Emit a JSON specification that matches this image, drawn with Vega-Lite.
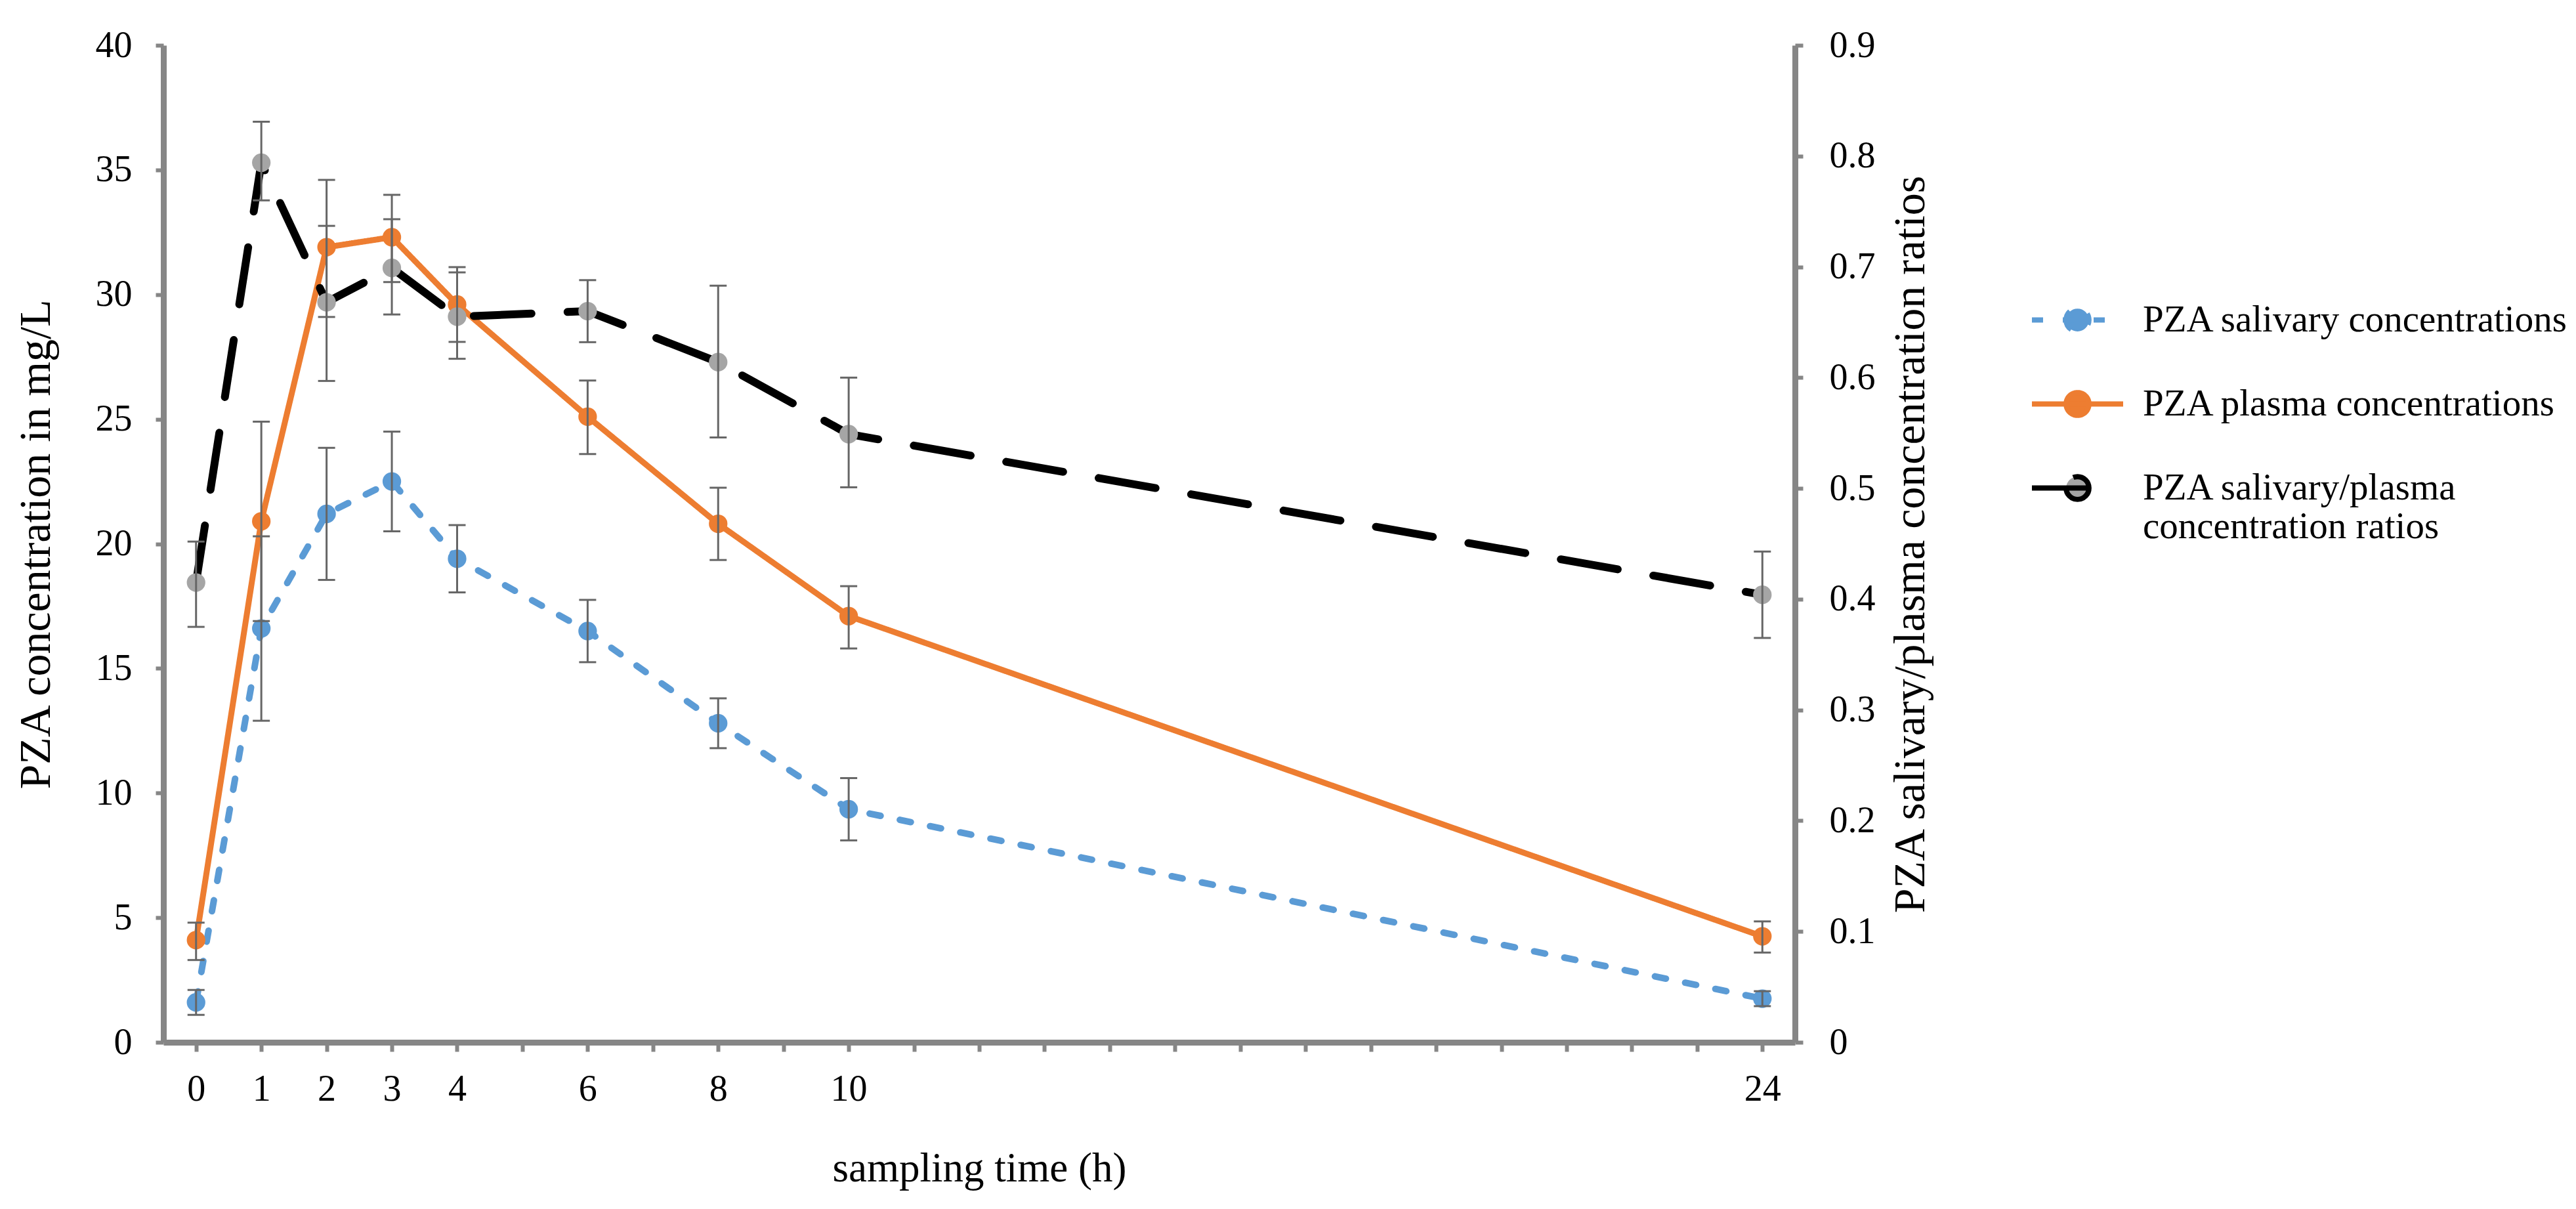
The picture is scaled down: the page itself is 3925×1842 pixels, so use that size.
{
  "$schema": "https://vega.github.io/schema/vega-lite/v6.json",
  "width": 2486,
  "height": 1519,
  "autosize": {"type": "none"},
  "padding": {"left": 249, "top": 69, "right": 1190, "bottom": 254},
  "background": "white",
  "config": {
    "view": {"stroke": null},
    "font": "Liberation Serif",
    "axis": {"grid": false, "labelFont": "Liberation Serif", "titleFont": "Liberation Serif", "labelColor": "#000000", "titleColor": "#000000", "titleFontWeight": "normal", "domainColor": "#868686", "tickColor": "#868686"}
  },
  "datasets": {
    "conc": [
      {"t": 0, "s": "PZA salivary concentrations", "m": 1.6, "lo": 1.1, "hi": 2.1},
      {"t": 1, "s": "PZA salivary concentrations", "m": 16.6, "lo": 12.9, "hi": 20.3},
      {"t": 2, "s": "PZA salivary concentrations", "m": 21.2, "lo": 18.55, "hi": 23.85},
      {"t": 3, "s": "PZA salivary concentrations", "m": 22.5, "lo": 20.5, "hi": 24.5},
      {"t": 4, "s": "PZA salivary concentrations", "m": 19.4, "lo": 18.05, "hi": 20.75},
      {"t": 6, "s": "PZA salivary concentrations", "m": 16.5, "lo": 15.25, "hi": 17.75},
      {"t": 8, "s": "PZA salivary concentrations", "m": 12.8, "lo": 11.8, "hi": 13.8},
      {"t": 10, "s": "PZA salivary concentrations", "m": 9.35, "lo": 8.1, "hi": 10.6},
      {"t": 24, "s": "PZA salivary concentrations", "m": 1.75, "lo": 1.45, "hi": 2.05},
      {"t": 0, "s": "PZA plasma concentrations", "m": 4.1, "lo": 3.3, "hi": 4.8},
      {"t": 1, "s": "PZA plasma concentrations", "m": 20.9, "lo": 16.9, "hi": 24.9},
      {"t": 2, "s": "PZA plasma concentrations", "m": 31.9, "lo": 29.1, "hi": 34.6},
      {"t": 3, "s": "PZA plasma concentrations", "m": 32.3, "lo": 30.5, "hi": 34.0},
      {"t": 4, "s": "PZA plasma concentrations", "m": 29.6, "lo": 28.1, "hi": 31.1},
      {"t": 6, "s": "PZA plasma concentrations", "m": 25.1, "lo": 23.6, "hi": 26.55},
      {"t": 8, "s": "PZA plasma concentrations", "m": 20.8, "lo": 19.35, "hi": 22.25},
      {"t": 10, "s": "PZA plasma concentrations", "m": 17.1, "lo": 15.8, "hi": 18.3},
      {"t": 24, "s": "PZA plasma concentrations", "m": 4.25, "lo": 3.6, "hi": 4.85}
    ],
    "ratio": [
      {"t": 0, "s": "PZA salivary/plasma concentration ratios", "m": 0.415, "lo": 0.375, "hi": 0.452},
      {"t": 1, "s": "PZA salivary/plasma concentration ratios", "m": 0.794, "lo": 0.76, "hi": 0.831},
      {"t": 2, "s": "PZA salivary/plasma concentration ratios", "m": 0.668, "lo": 0.597, "hi": 0.737},
      {"t": 3, "s": "PZA salivary/plasma concentration ratios", "m": 0.699, "lo": 0.657, "hi": 0.743},
      {"t": 4, "s": "PZA salivary/plasma concentration ratios", "m": 0.655, "lo": 0.617, "hi": 0.695},
      {"t": 6, "s": "PZA salivary/plasma concentration ratios", "m": 0.66, "lo": 0.632, "hi": 0.688},
      {"t": 8, "s": "PZA salivary/plasma concentration ratios", "m": 0.614, "lo": 0.546, "hi": 0.683},
      {"t": 10, "s": "PZA salivary/plasma concentration ratios", "m": 0.549, "lo": 0.501, "hi": 0.6},
      {"t": 24, "s": "PZA salivary/plasma concentration ratios", "m": 0.404, "lo": 0.365, "hi": 0.443}
    ]
  },
  "layer": [
    {
      "data": {"name": "conc"},
      "layer": [
        {
          "mark": {"type": "line", "strokeCap": "round", "strokeJoin": "round"},
          "encoding": {
            "x": {"field": "t", "type": "quantitative", "scale": {"domain": [-0.5, 24.5], "nice": false, "zero": false},
              "axis": {"values": [0,1,2,3,4,5,6,7,8,9,10,11,12,13,14,15,16,17,18,19,20,21,22,23,24], "format": "d",
                "labelExpr": "indexof([0,1,2,3,4,6,8,10,24], datum.value) >= 0 ? datum.label : ''",
                "title": "sampling time (h)", "titleFontSize": 63, "titleY": 192, "titleBaseline": "middle",
                "labelFontSize": 56, "labelPadding": 30, "tickSize": 14, "tickWidth": 6, "domainWidth": 9, "labelOverlap": false}},
            "y": {"field": "m", "type": "quantitative", "scale": {"domain": [0, 40], "nice": false},
              "axis": {"values": [0,5,10,15,20,25,30,35,40], "title": "PZA concentration in mg/L", "titleFontSize": 68,
                "titleX": -194, "titleY": 760, "titleBaseline": "middle", "titleAngle": -90,
                "labelFontSize": 56, "labelPadding": 36, "tickSize": 12, "tickWidth": 6, "domainWidth": 9}},
            "color": {"field": "s", "type": "nominal",
              "scale": {"domain": ["PZA salivary concentrations", "PZA plasma concentrations", "PZA salivary/plasma concentration ratios"], "range": ["#5B9BD5", "#ED7D31", "#000000"]},
              "legend": {"title": null, "orient": "none", "legendX": 2843, "legendY": 345,
                "symbolType": "M-1,0L1,0M-0.25,0A0.25,0.25,0,1,0,0.25,0A0.25,0.25,0,1,0,-0.25,0",
                "symbolSize": 19321, "symbolStrokeWidth": 8, "labelFont": "Liberation Serif", "labelFontSize": 57,
                "labelColor": "#000000", "labelOffset": 26, "rowPadding": 21, "labelLimit": 2000,
                "labelExpr": "datum.label == 'PZA salivary/plasma concentration ratios' ? ['PZA salivary/plasma', 'concentration ratios'] : datum.label"}},
            "strokeDash": {"field": "s", "type": "nominal",
              "scale": {"domain": ["PZA salivary concentrations", "PZA plasma concentrations", "PZA salivary/plasma concentration ratios"], "range": [[17, 30], [1, 0], [88, 55]]},
              "legend": {"title": null, "orient": "none", "legendX": 2843, "legendY": 345}},
            "strokeWidth": {"condition": {"test": "datum.s == 'PZA plasma concentrations'", "value": 9}, "value": 10}
          }
        },
        {
          "mark": {"type": "point", "filled": true, "size": 800, "opacity": 1, "strokeWidth": 0},
          "encoding": {
            "x": {"field": "t", "type": "quantitative"},
            "y": {"field": "m", "type": "quantitative"},
            "fill": {"field": "s", "type": "nominal",
              "scale": {"domain": ["PZA salivary concentrations", "PZA plasma concentrations", "PZA salivary/plasma concentration ratios"], "range": ["#5B9BD5", "#ED7D31", "#A5A5A5"]},
              "legend": {"title": null, "orient": "none", "legendX": 2843, "legendY": 345}}
          }
        }
      ]
    },
    {
      "data": {"name": "ratio"},
      "layer": [
        {
          "mark": {"type": "line", "strokeCap": "round", "strokeJoin": "round", "strokeWidth": 12},
          "encoding": {
            "x": {"field": "t", "type": "quantitative"},
            "y": {"field": "m", "type": "quantitative", "scale": {"domain": [0, 0.9], "nice": false},
              "axis": {"orient": "right", "values": [0, 0.1, 0.2, 0.3, 0.4, 0.5, 0.6, 0.7, 0.8, 0.9], "format": ".1~f",
                "title": "PZA salivary/plasma concentration ratios", "titleFontSize": 68,
                "titleX": 176, "titleY": 760, "titleBaseline": "middle", "titleAngle": -90,
                "labelFontSize": 56, "labelPadding": 40, "tickSize": 12, "tickWidth": 6, "domainWidth": 9}},
            "color": {"field": "s", "type": "nominal"},
            "strokeDash": {"field": "s", "type": "nominal"}
          }
        },
        {
          "mark": {"type": "point", "filled": true, "size": 800, "opacity": 1, "strokeWidth": 0},
          "encoding": {
            "x": {"field": "t", "type": "quantitative"},
            "y": {"field": "m", "type": "quantitative"},
            "fill": {"field": "s", "type": "nominal"}
          }
        },
        {
          "mark": {"type": "rule", "color": "#666666", "strokeWidth": 3},
          "encoding": {
            "x": {"field": "t", "type": "quantitative"},
            "y": {"field": "lo", "type": "quantitative"},
            "y2": {"field": "hi"}
          }
        },
        {
          "mark": {"type": "tick", "orient": "horizontal", "color": "#666666", "size": 26, "thickness": 3, "opacity": 1},
          "encoding": {
            "x": {"field": "t", "type": "quantitative"},
            "y": {"field": "lo", "type": "quantitative"}
          }
        },
        {
          "mark": {"type": "tick", "orient": "horizontal", "color": "#666666", "size": 26, "thickness": 3, "opacity": 1},
          "encoding": {
            "x": {"field": "t", "type": "quantitative"},
            "y": {"field": "hi", "type": "quantitative"}
          }
        }
      ]
    },
    {
      "data": {"name": "conc"},
      "layer": [
        {
          "mark": {"type": "rule", "color": "#666666", "strokeWidth": 3},
          "encoding": {
            "x": {"field": "t", "type": "quantitative"},
            "y": {"field": "lo", "type": "quantitative", "scale": {"domain": [0, 40], "nice": false}, "axis": null},
            "y2": {"field": "hi"}
          }
        },
        {
          "mark": {"type": "tick", "orient": "horizontal", "color": "#666666", "size": 26, "thickness": 3, "opacity": 1},
          "encoding": {
            "x": {"field": "t", "type": "quantitative"},
            "y": {"field": "lo", "type": "quantitative"}
          }
        },
        {
          "mark": {"type": "tick", "orient": "horizontal", "color": "#666666", "size": 26, "thickness": 3, "opacity": 1},
          "encoding": {
            "x": {"field": "t", "type": "quantitative"},
            "y": {"field": "hi", "type": "quantitative"}
          }
        }
      ]
    }
  ],
  "resolve": {"scale": {"y": "independent"}}
}
